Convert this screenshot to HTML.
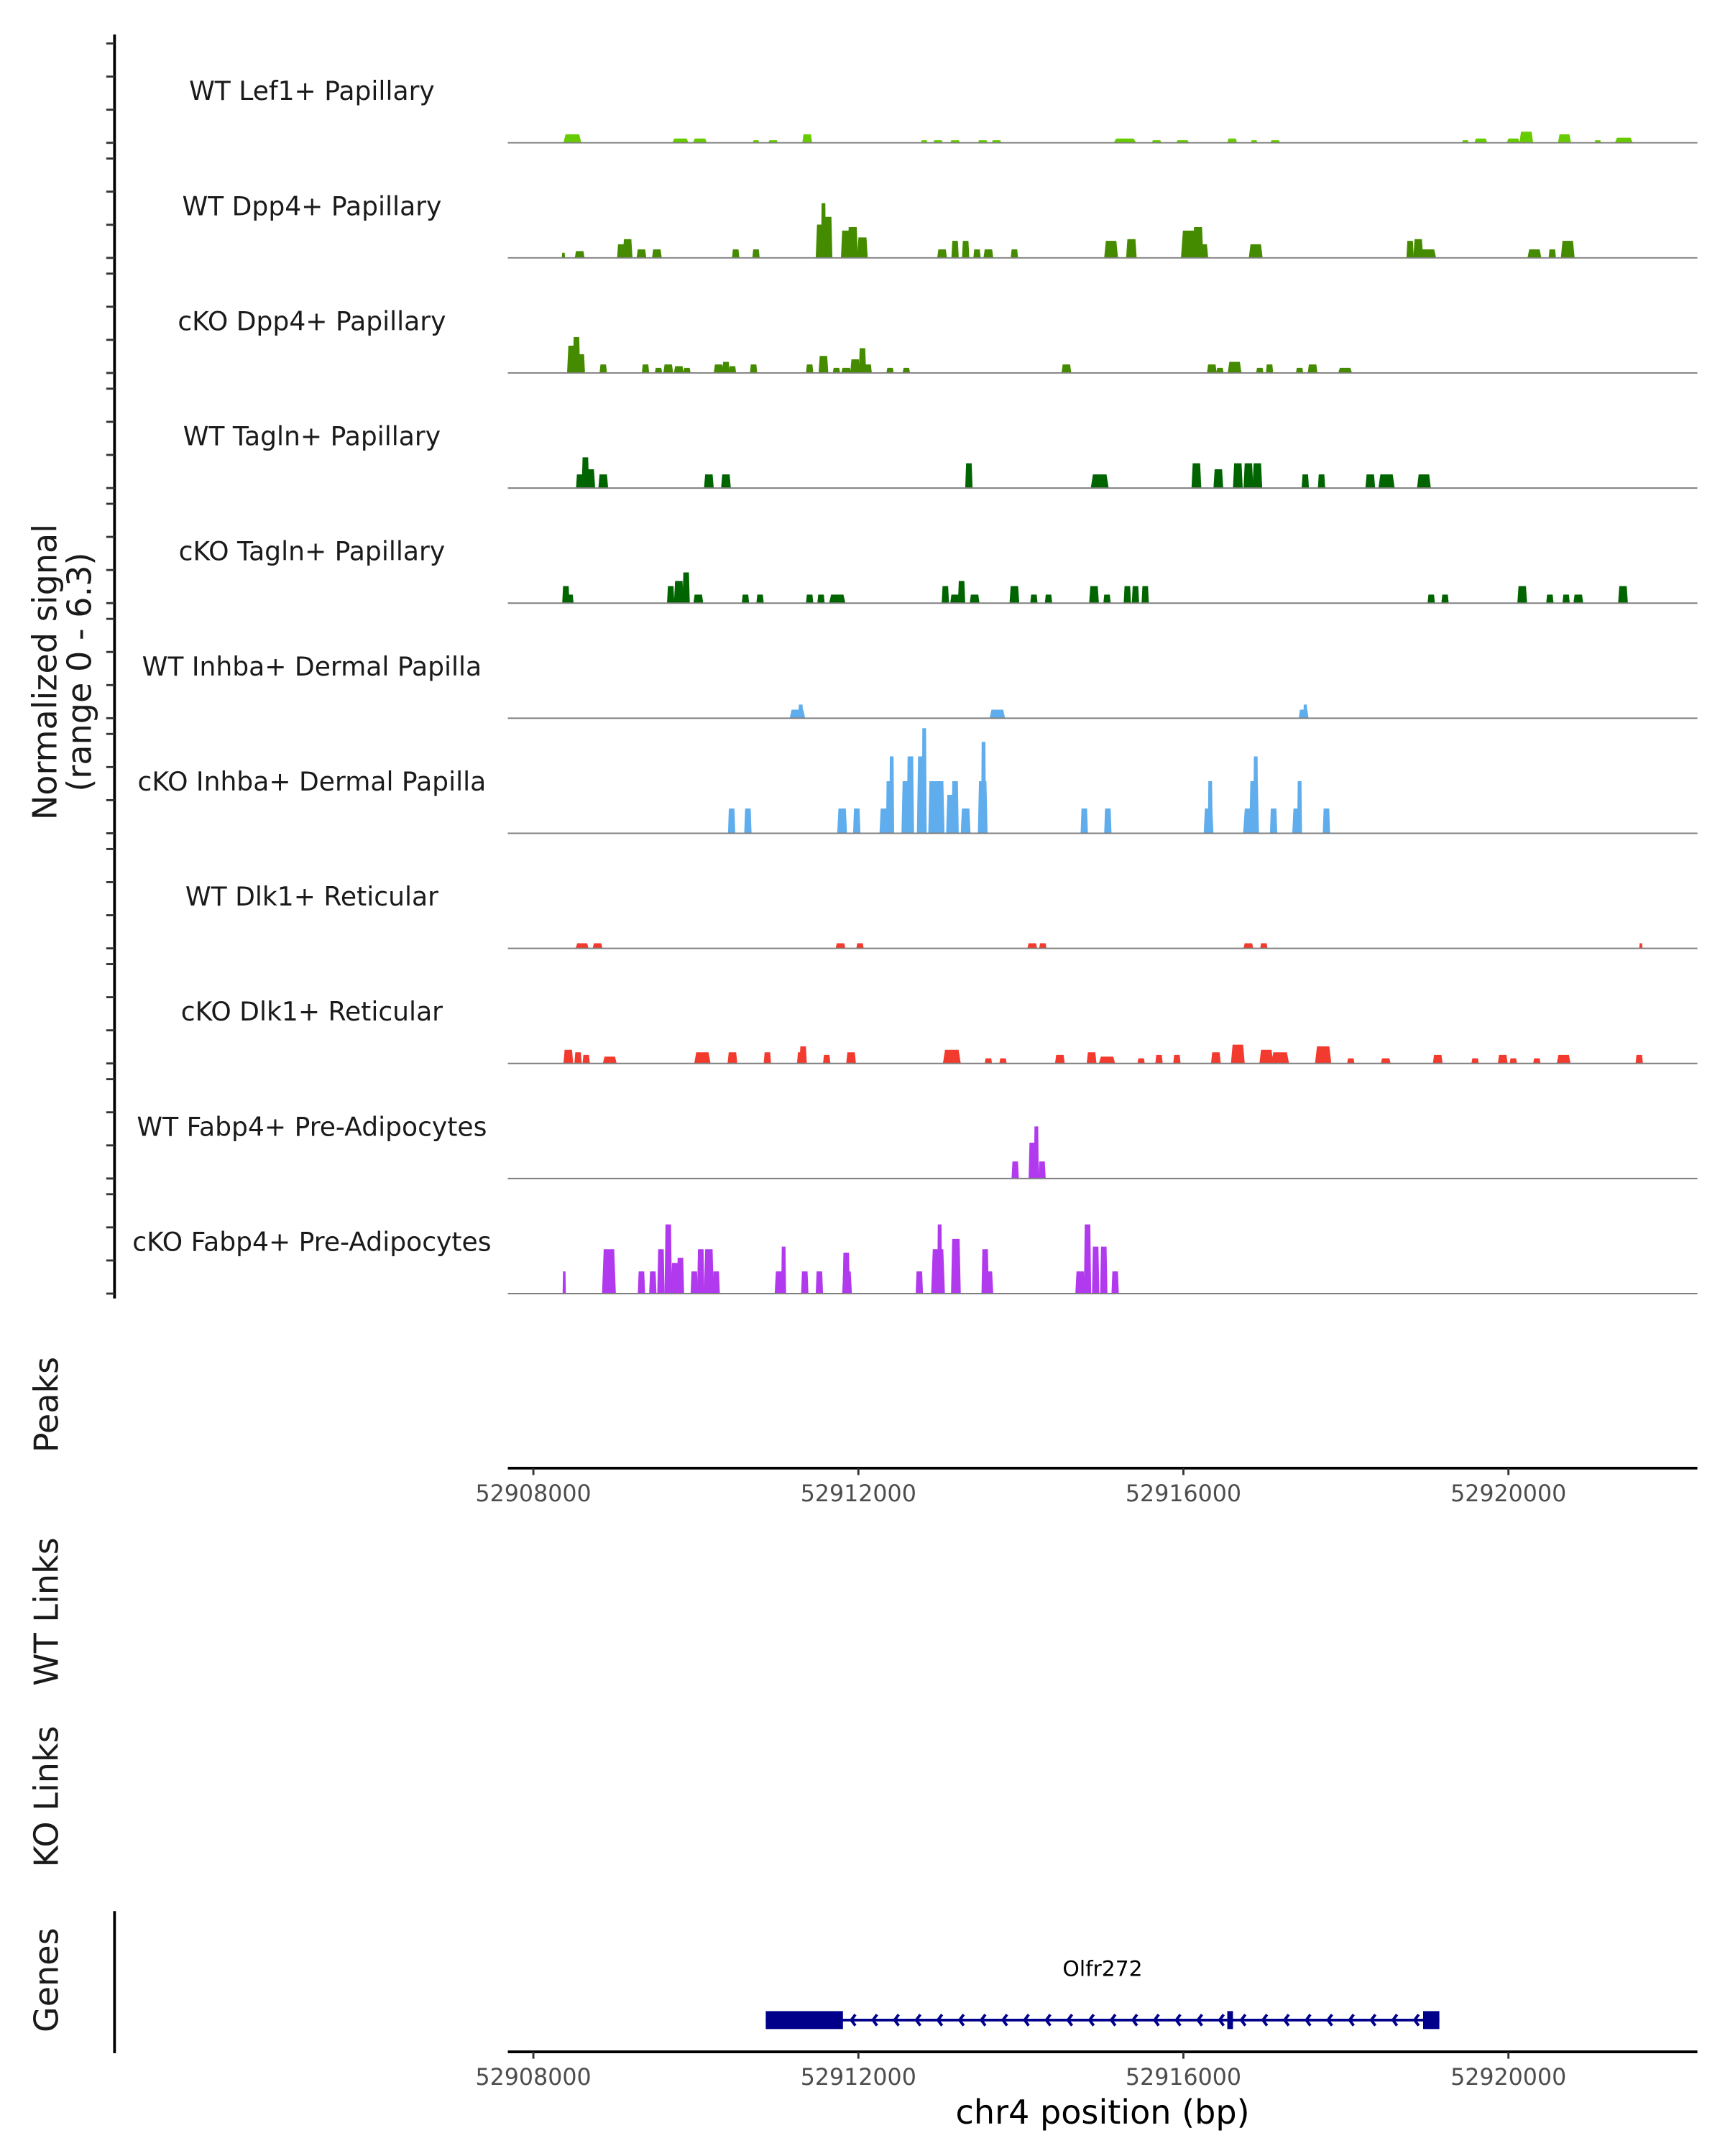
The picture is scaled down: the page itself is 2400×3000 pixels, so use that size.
<!DOCTYPE html>
<html><head><meta charset="utf-8"><style>
html,body{margin:0;padding:0;background:#fff;}
svg{display:block;}
text{font-family:"DejaVu Sans","Liberation Sans",sans-serif;}
</style></head><body>
<svg id="chart" xmlns="http://www.w3.org/2000/svg" width="2400" height="3000" viewBox="0 0 1250 1562.5">
<rect x="0" y="0" width="1250" height="1562.5" fill="#fff"/>
<g id="tracks"></g>
<line x1="83" y1="25" x2="83" y2="941" stroke="#000" stroke-width="2"/>
<g id="yticks"></g>
<text transform="translate(41,487) rotate(-90)" text-anchor="middle" font-size="24" fill="#1a1a1a">Normalized signal</text>
<text transform="translate(66,487) rotate(-90)" text-anchor="middle" font-size="24" fill="#1a1a1a">(range 0 - 6.3)</text>
<text transform="translate(42,1018) rotate(-90)" text-anchor="middle" font-size="24" fill="#1a1a1a">Peaks</text>
<text transform="translate(42,1168) rotate(-90)" text-anchor="middle" font-size="24" fill="#1a1a1a">WT Links</text>
<text transform="translate(42,1302) rotate(-90)" text-anchor="middle" font-size="24" fill="#1a1a1a">KO Links</text>
<text transform="translate(42,1435) rotate(-90)" text-anchor="middle" font-size="24" fill="#1a1a1a">Genes</text>
<line x1="83" y1="1385" x2="83" y2="1488" stroke="#000" stroke-width="2"/>
<g id="xaxes"></g>
<g id="gene"></g>
<text x="799" y="1539" text-anchor="middle" font-size="24" fill="#000">chr4 position (bp)</text>
</svg>
<script>
const NS="http://www.w3.org/2000/svg";
const trackNames=["WT Lef1+ Papillary","WT Dpp4+ Papillary","cKO Dpp4+ Papillary","WT Tagln+ Papillary","cKO Tagln+ Papillary","WT Inhba+ Dermal Papilla","cKO Inhba+ Dermal Papilla","WT Dlk1+ Reticular","cKO Dlk1+ Reticular","WT Fabp4+ Pre-Adipocytes","cKO Fabp4+ Pre-Adipocytes"];
const trackColors=["#66cc00","#458b00","#458b00","#006400","#006400","#5fadec","#5fadec","#f23b2e","#f23b2e","#b23aee","#b23aee"];
const xTicks=[52908000,52912000,52916000,52920000];
const xTickLabels=["52908000","52912000","52916000","52920000"];
const signalMax=6.3;
// peak positions (kb), widths (kb), signal heights
const t1Pos=[52908.48,52909.81,52910.05,52910.74,52910.95,52911.37,52912.81,52912.98,52913.19,52913.53,52913.70,52915.28,52915.67,52915.99,52916.60,52916.87,52917.13,52919.47,52919.66,52920.06,52920.22,52920.69,52921.10,52921.42];
const t1Wid=[.22,.2,.17,.08,.12,.12,.08,.12,.12,.12,.12,.28,.12,.16,.12,.08,.12,.08,.16,.16,.17,.16,.08,.22];
const t1Sig=[.5,.25,.25,.15,.15,.5,.15,.15,.15,.15,.15,.25,.15,.15,.25,.15,.15,.15,.25,.25,.65,.5,.15,.3];
const t2Pos=[52908.37,52908.57,52909.08,52909.16,52909.33,52909.52,52910.49,52910.74,52911.54,52911.57,52911.63,52911.85,52911.93,52912.05,52913.03,52913.19,52913.32,52913.46,52913.60,52913.92,52915.11,52915.36,52916.07,52916.18,52916.24,52916.89,52918.79,52918.89,52919.01,52920.32,52920.54,52920.73];
const t2Wid=[.04,.12,.1,.12,.12,.12,.09,.09,.13,.06,.1,.13,.13,.13,.12,.09,.09,.09,.12,.09,.17,.13,.2,.13,.13,.17,.09,.12,.2,.17,.09,.17];
const t2Sig=[.3,.4,.8,1.1,.5,.5,.5,.5,1.95,3.2,2.4,1.6,1.8,1.2,.5,1.0,1.0,.5,.5,.5,1.0,1.1,1.6,1.8,.8,.8,1.0,1.1,.5,.5,.5,1.0];
const t3Pos=[52908.48,52908.53,52908.59,52908.86,52909.38,52909.54,52909.66,52909.79,52909.89,52910.28,52910.37,52910.45,52910.71,52911.40,52911.57,52911.73,52911.85,52911.96,52912.05,52912.12,52912.39,52912.59,52914.56,52916.35,52916.45,52916.63,52916.94,52917.06,52917.43,52917.59,52917.99];
const t3Wid=[.13,.09,.09,.09,.09,.09,.12,.12,.09,.12,.09,.09,.09,.09,.12,.09,.12,.12,.09,.09,.09,.09,.12,.12,.09,.17,.09,.09,.09,.12,.17];
const t3Sig=[1.6,2.1,1.1,.5,.5,.3,.5,.4,.3,.5,.65,.4,.5,.5,1.0,.3,.3,.8,1.45,.5,.3,.3,.5,.5,.3,.65,.3,.5,.3,.5,.3];
const t4Pos=[52908.57,52908.64,52908.70,52908.86,52910.16,52910.37,52913.36,52914.97,52916.16,52916.43,52916.67,52916.80,52916.91,52917.50,52917.70,52918.30,52918.50,52918.96];
const t4Wid=[.09,.09,.12,.12,.12,.12,.09,.22,.12,.12,.12,.12,.12,.09,.09,.12,.2,.17];
const t4Sig=[.8,1.8,1.1,.8,.8,.8,1.45,.8,1.45,1.1,1.45,1.45,1.45,.8,.8,.8,.8,.8];
const t5Pos=[52908.40,52908.45,52909.69,52909.79,52909.88,52910.03,52910.61,52910.79,52911.40,52911.54,52911.74,52913.07,52913.19,52913.27,52913.43,52913.92,52914.16,52914.34,52914.90,52915.06,52915.31,52915.41,52915.53,52919.05,52919.22,52920.17,52920.51,52920.71,52920.86,52921.41];
const t5Wid=[.09,.09,.09,.12,.09,.12,.09,.09,.09,.09,.2,.09,.12,.09,.12,.12,.09,.09,.12,.09,.09,.09,.09,.09,.09,.12,.09,.09,.12,.12];
const t5Sig=[1.0,.5,1.0,1.3,1.8,.5,.5,.5,.5,.5,.5,1.0,.5,1.3,.5,1.0,.5,.5,1.0,.5,1.0,1.0,1.0,.5,.5,1.0,.5,.5,.5,1.0];
const t6Pos=[52911.25,52911.29,52913.71,52917.48,52917.50];
const t6Wid=[.19,.06,.19,.12,.05];
const t6Sig=[.5,.8,.5,.5,.8];
const t7Pos=[52910.44,52910.64,52911.80,52911.98,52912.32,52912.37,52912.41,52912.59,52912.64,52912.78,52912.81,52912.92,52913.00,52913.14,52913.19,52913.32,52913.53,52913.54,52914.78,52915.07,52916.31,52916.33,52916.82,52916.87,52916.89,52917.11,52917.40,52917.43,52917.76];
const t7Wid=[.09,.09,.12,.09,.12,.06,.06,.12,.09,.12,.06,.12,.12,.12,.09,.12,.12,.06,.09,.09,.12,.06,.17,.12,.06,.09,.12,.06,.09];
const t7Sig=[1.45,1.45,1.45,1.45,1.45,3.05,4.5,3.05,4.5,4.5,6.15,3.05,3.05,2.25,3.05,1.45,3.05,5.35,1.45,1.45,1.45,3.05,1.45,3.05,4.5,1.45,1.45,3.05,1.45];
const t8Pos=[52908.60,52908.79,52911.78,52912.02,52914.14,52914.27,52916.80,52916.99,52921.63];
const t8Wid=[.16,.12,.12,.09,.12,.09,.12,.09,.04];
const t8Sig=[.3,.3,.3,.3,.3,.3,.3,.3,.3];
const t9Pos=[52908.43,52908.55,52908.65,52908.94,52910.08,52910.45,52910.88,52911.29,52911.32,52911.61,52911.91,52913.15,52913.60,52913.78,52914.48,52914.87,52915.06,52915.48,52915.70,52915.92,52916.40,52916.67,52917.02,52917.19,52917.72,52918.06,52918.49,52919.13,52919.59,52919.93,52920.06,52920.35,52920.68,52921.61];
const t9Wid=[.12,.09,.09,.17,.2,.12,.09,.09,.09,.09,.12,.22,.09,.09,.12,.12,.2,.09,.09,.09,.12,.17,.17,.22,.2,.09,.12,.12,.09,.12,.09,.09,.17,.09];
const t9Sig=[.8,.65,.5,.4,.65,.65,.65,.65,1.0,.5,.65,.8,.3,.3,.5,.65,.4,.3,.5,.5,.65,1.1,.8,.65,1.0,.3,.3,.5,.3,.5,.3,.3,.5,.5];
const t10Pos=[52913.93,52914.14,52914.19,52914.26];
const t10Wid=[.09,.09,.06,.09];
const t10Sig=[1.0,2.1,3.05,1.0];
const t11Pos=[52908.38,52908.93,52909.33,52909.47,52909.57,52909.66,52909.74,52909.81,52909.98,52910.06,52910.16,52910.25,52911.03,52911.08,52911.34,52911.52,52911.85,52911.86,52912.75,52912.98,52913.00,52913.20,52913.56,52913.60,52914.73,52914.82,52914.92,52915.02,52915.16];
const t11Wid=[.04,.17,.09,.09,.09,.09,.09,.09,.09,.09,.12,.09,.12,.06,.09,.09,.09,.12,.09,.17,.06,.12,.09,.12,.12,.09,.09,.09,.09];
const t11Sig=[1.3,2.6,1.3,1.3,2.6,4.05,1.8,2.1,1.3,2.6,2.6,1.3,1.3,2.75,1.3,1.3,2.4,1.3,1.3,2.6,4.05,3.2,2.6,1.3,1.3,4.05,2.75,2.75,1.3];
const genePos=[52910.86,52919.15];
const geneExons=[[52910.86,52911.81],[52916.54,52916.61],[52918.95,52919.15]];
const geneName="Olfr272";

const allPos=[t1Pos,t2Pos,t3Pos,t4Pos,t5Pos,t6Pos,t7Pos,t8Pos,t9Pos,t10Pos,t11Pos];
const allWid=[t1Wid,t2Wid,t3Wid,t4Wid,t5Wid,t6Wid,t7Wid,t8Wid,t9Wid,t10Wid,t11Wid];
const allSig=[t1Sig,t2Sig,t3Sig,t4Sig,t5Sig,t6Sig,t7Sig,t8Sig,t9Sig,t10Sig,t11Sig];

const X0=386.5, PXPERKB=58.88;
function xs(kb){return X0+(kb-52908)*PXPERKB;}
function ys(v){return v/signalMax*78;}
const BASE0=103.5, STEP=83.4;

function mk(tag,attrs,parent){const e=document.createElementNS(NS,tag);for(const k in attrs)e.setAttribute(k,attrs[k]);parent.appendChild(e);return e;}

const tracksG=document.getElementById('tracks');
const ticksG=document.getElementById('yticks');
for(let t=0;t<trackNames.length;t++){
  const b=BASE0+t*STEP;
  const g=mk('g',{},tracksG);
  
  
  const lab=mk('text',{x:226,y:b-31,'text-anchor':'middle','font-size':18.8,fill:'#1a1a1a'},g);
  lab.textContent=trackNames[t];
  
  
  const P=allPos[t],W=allWid[t],S=allSig[t];
  for(let i=0;i<P.length;i++){
    const x1=xs(P[i]-W[i]/2),x2=xs(P[i]+W[i]/2);
    const w=Math.max(x2-x1,2);const h=ys(S[i]);
    const inset=w*0.12;
    const poly=mk('polygon',{points:`${x1},${b} ${x1+inset},${b-h} ${x1+w-inset},${b-h} ${x1+w},${b}`,fill:trackColors[t]},g);
    
    
  }
  const bl=mk('line',{x1:368,x2:1230,y1:b,y2:b,stroke:'#7f7f7f','stroke-width':1},g);
  
  
  for(const off of [0,24,48,72]){
    const tk=mk('line',{x1:77,x2:83,y1:b-off,y2:b-off,stroke:'#333','stroke-width':1.5},ticksG);
    
    
  }
}

const axG=document.getElementById('xaxes');
for(const ay of [1064,1487]){
  const ln=mk('line',{x1:368,x2:1230,y1:ay,y2:ay,stroke:'#000','stroke-width':2},axG);
  
  
  for(let i=0;i<xTicks.length;i++){
    const x=xs(xTicks[i]/1000);
    const tk=mk('line',{x1:x,x2:x,y1:ay,y2:ay+5,stroke:'#333','stroke-width':1.5},axG);
    
    
    const tl=mk('text',{x:x,y:ay+24,'text-anchor':'middle','font-size':16.5,fill:'#4d4d4d'},axG);
    tl.textContent=xTickLabels[i];
    
    
  }
}

const geneG=document.getElementById('gene');
const gy=1464;
const gl=mk('line',{x1:xs(genePos[0]),x2:xs(genePos[1]),y1:gy,y2:gy,stroke:'#00008b','stroke-width':2},geneG);


for(let x=xs(geneExons[0][1])+6;x<xs(geneExons[2][0])-2;x+=15.7){
  if(Math.abs(x-xs(geneExons[1][0]))<5) continue;
  const c=mk('polyline',{points:`${x+3},${gy-4} ${x},${gy} ${x+3},${gy+4}`,fill:'none',stroke:'#00008b','stroke-width':2},geneG);
  
  
}
for(const ex of geneExons){
  const r=mk('rect',{x:xs(ex[0]),y:gy-6.5,width:Math.max(xs(ex[1])-xs(ex[0]),4),height:13,fill:'#00008b'},geneG);
  
  
}
const gt=mk('text',{x:(xs(genePos[0])+xs(genePos[1]))/2,y:1432,'text-anchor':'middle','font-size':15.5,fill:'#000'},geneG);
gt.textContent=geneName;


</script>
</body></html>
